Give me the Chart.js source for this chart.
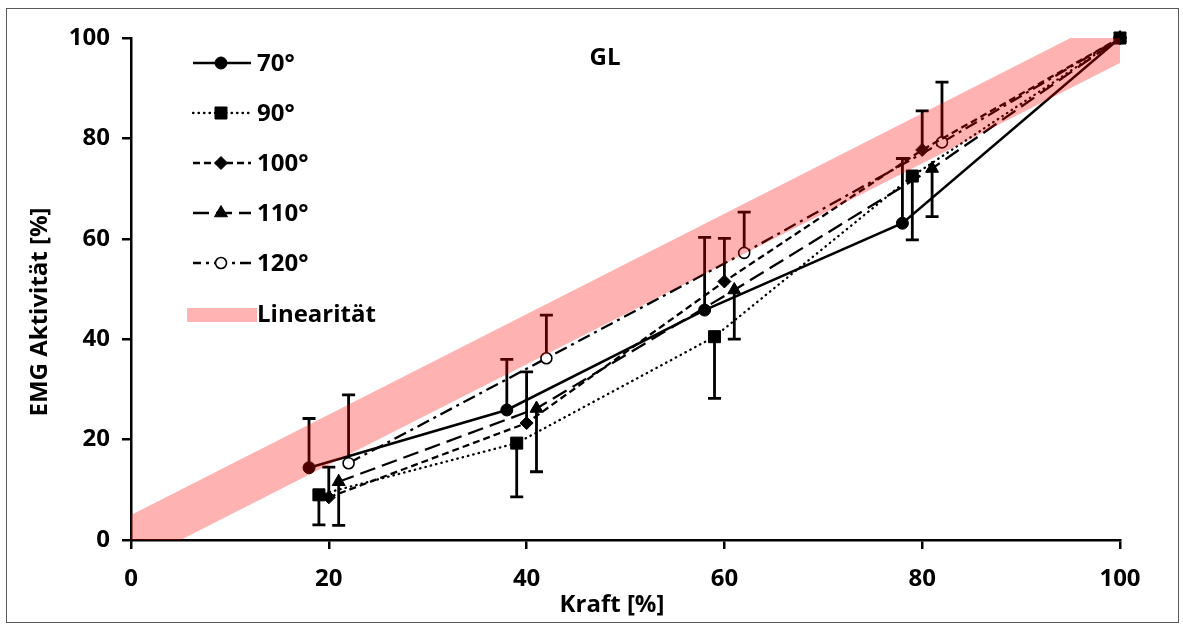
<!DOCTYPE html>
<html>
<head>
<meta charset="utf-8">
<script src="https://cdn.jsdelivr.net/npm/chart.js@4/dist/chart.umd.min.js"></script>
<style>
  html, body { margin: 0; padding: 0; background: #fff; }
  #wrap { width: 1183px; height: 630px; position: relative; }
</style>
</head>
<body>
<div id="wrap"><canvas id="grafico" width="1183" height="630"></canvas></div>
<script>
// Werte (Kraft [%] / EMG [%] / SD)
const etiquetas = ['70°', '90°', '100°', '110°', '120°'];

const x70 = [18, 38, 58, 78, 100];
const y70 = [14.4, 25.9, 45.8, 63.1, 100];
const sd70 = [9.8, 10.1, 14.5, 12.9, 0];

const x90 = [19, 39, 59, 79, 100];
const y90 = [9.0, 19.3, 40.5, 72.5, 100];
const sd90 = [6.0, 10.7, 12.3, 12.7, 0];

const x100 = [20, 40, 60, 80, 100];
const y100 = [8.5, 23.3, 51.5, 77.7, 100];
const sd100 = [6.0, 10.2, 8.6, 7.8, 0];

const x110 = [21, 41, 61, 81, 100];
const y110 = [11.6, 26.2, 49.8, 74.0, 100];
const sd110 = [8.7, 12.6, 9.8, 9.6, 0];

const x120 = [22, 42, 62, 82, 100];
const y120 = [15.3, 36.2, 57.2, 79.2, 100];
const sd120 = [13.6, 8.6, 8.1, 12.0, 0];

// Linearitätsband: y = x +/- 5
const bandX = [0, 100];
const bandOben = [5, 105];
const bandUnten = [-5, 95];

const ticksX = [0, 20, 40, 60, 80, 100];
const ticksY = [0, 20, 40, 60, 80, 100];

const tituloX = 'Kraft [%]';
const tituloY = 'EMG Aktivität [%]';

const FUENTE = '"Open Sans", "DejaVu Sans", sans-serif';

function puntos(xs, ys) { return xs.map((x, i) => ({ x: x, y: ys[i] })); }

// Serien: Stil + Richtung der Fehlerbalken (+1 nach oben, -1 nach unten)
const series = [
    { label: etiquetas[0], xs: x70, ys: y70, sd: sd70, dir: 1, dash: [], ancho: 2.5, punto: 'circle', radio: 6, relleno: '#000' },
    { label: etiquetas[1], xs: x90, ys: y90, sd: sd90, dir: -1, dash: [0.5, 5], ancho: 2.3, punto: 'rect', radio: 8.5, relleno: '#000', cap: 'round' },
    { label: etiquetas[2], xs: x100, ys: y100, sd: sd100, dir: 1, dash: [7, 4], ancho: 2.3, punto: 'rectRot', radio: 6.5, relleno: '#000' },
    { label: etiquetas[3], xs: x110, ys: y110, sd: sd110, dir: -1, dash: [16, 7], ancho: 2.3, punto: 'triangle', radio: 7.5, relleno: '#000' },
    { label: etiquetas[4], xs: x120, ys: y120, sd: sd120, dir: 1, dash: [13, 5, 3, 5], ancho: 2.3, punto: 'circle', radio: 5.5, relleno: '#fff', offsetLeyenda: 5 }
];

const ROSA = 'rgba(255, 0, 0, 0.3)';

const datasets = series.map(s => ({
    label: s.label,
    data: puntos(s.xs, s.ys),
    showLine: true,
    borderColor: '#000',
    borderWidth: s.ancho,
    borderDash: s.dash,
    borderCapStyle: s.cap || 'butt',
    pointStyle: s.punto,
    pointRadius: s.radio,
    pointHoverRadius: s.radio,
    pointBackgroundColor: s.relleno,
    pointBorderColor: '#000',
    pointBorderWidth: s.relleno === '#fff' ? 1.6 : 1,
    fill: false,
    clip: false
}));

datasets.push({
    label: 'Linearität',
    data: puntos(bandX, bandOben),
    showLine: true,
    borderWidth: 0,
    borderColor: 'rgba(0,0,0,0)',
    backgroundColor: ROSA,
    pointRadius: 0,
    fill: '+1',
    order: -2
});
datasets.push({
    label: 'Linearität_unten',
    data: puntos(bandX, bandUnten),
    showLine: true,
    borderWidth: 0,
    borderColor: 'rgba(0,0,0,0)',
    pointRadius: 0,
    fill: false,
    order: -1
});

// Fehlerbalken (unter allem, damit das Band darüber liegt)
const fehlerbalken = {
    id: 'fehlerbalken',
    beforeDatasetsDraw(chart) {
        const ctx = chart.ctx, sx = chart.scales.x, sy = chart.scales.y;
        ctx.save();
        ctx.strokeStyle = '#000';
        ctx.lineWidth = 2.8;
        series.forEach(s => {
            s.xs.forEach((xv, i) => {
                if (!s.sd[i]) return;
                const px = sx.getPixelForValue(xv);
                const p0 = sy.getPixelForValue(s.ys[i]);
                const p1 = sy.getPixelForValue(s.ys[i] + s.dir * s.sd[i]);
                ctx.beginPath();
                ctx.moveTo(px, p0); ctx.lineTo(px, p1);
                ctx.moveTo(px - 6.5, p1); ctx.lineTo(px + 6.5, p1);
                ctx.stroke();
            });
        });
        ctx.restore();
    }
};

function dibujarMarca(ctx, tipo, x, y, r, relleno) {
    ctx.save();
    ctx.fillStyle = relleno;
    ctx.strokeStyle = '#000';
    ctx.lineWidth = relleno === '#fff' ? 1.6 : 1;
    ctx.setLineDash([]);
    ctx.beginPath();
    if (tipo === 'circle') ctx.arc(x, y, r, 0, Math.PI * 2);
    else if (tipo === 'rect') { const h = r * Math.SQRT1_2; ctx.rect(x - h, y - h, 2 * h, 2 * h); }
    else if (tipo === 'rectRot') { ctx.moveTo(x, y - r); ctx.lineTo(x + r, y); ctx.lineTo(x, y + r); ctx.lineTo(x - r, y); ctx.closePath(); }
    else if (tipo === 'triangle') { ctx.moveTo(x, y - r); ctx.lineTo(x + r * 0.866, y + r * 0.5); ctx.lineTo(x - r * 0.866, y + r * 0.5); ctx.closePath(); }
    ctx.fill(); ctx.stroke();
    ctx.restore();
}

// Legende, Titel "GL", Achsentitel und Rahmen
const extras = {
    id: 'extras',
    afterDraw(chart) {
        const ctx = chart.ctx;
        ctx.save();
        ctx.font = 'bold 24px ' + FUENTE;
        ctx.fillStyle = '#000';
        ctx.textBaseline = 'middle';
        ctx.textAlign = 'left';
        series.forEach((s, i) => {
            const yy = 63 + i * 50;
            ctx.save();
            ctx.strokeStyle = '#000';
            ctx.lineWidth = s.ancho;
            ctx.setLineDash(s.dash);
            ctx.lineDashOffset = s.offsetLeyenda || 0;
            ctx.lineCap = s.cap || 'butt';
            ctx.beginPath(); ctx.moveTo(193, yy); ctx.lineTo(251, yy); ctx.stroke();
            ctx.restore();
            dibujarMarca(ctx, s.punto, 221, yy, s.radio, s.relleno);
            ctx.fillText(s.label, 257, yy + 1);
        });
        ctx.fillStyle = 'rgb(255,179,179)';
        ctx.fillRect(187, 308, 70, 14);
        ctx.fillStyle = '#000';
        ctx.fillText('Linearität', 257, 315);

        ctx.textAlign = 'center';
        ctx.fillText('GL', 605, 58);

        ctx.fillText(tituloX, 612, 605);
        ctx.save();
        ctx.translate(40, 312);
        ctx.rotate(-Math.PI / 2);
        ctx.fillText(tituloY, 0, 0);
        ctx.restore();

        ctx.strokeStyle = '#595959';
        ctx.lineWidth = 1;
        ctx.strokeRect(6.5, 8.5, 1172, 614);
        ctx.restore();
    }
};

const fuenteTicks = { family: FUENTE, size: 24, weight: 'bold' };

new Chart(document.getElementById('grafico'), {
    type: 'scatter',
    data: { datasets: datasets },
    options: {
        responsive: false,
        animation: false,
        events: [],
        layout: { padding: { top: 38, right: 63, left: 0, bottom: 0 } },
        plugins: { legend: { display: false }, tooltip: { enabled: false }, title: { display: false } },
        scales: {
            x: {
                type: 'linear', min: 0, max: 100,
                afterFit: s => { s.height = 90; },
                afterBuildTicks: s => { s.ticks = ticksX.map(v => ({ value: v })); },
                ticks: { font: fuenteTicks, color: '#000', padding: 16, maxRotation: 0 },
                grid: { drawOnChartArea: false, drawTicks: true, tickLength: 9, color: '#000', lineWidth: 2.5 },
                border: { display: true, color: '#000', width: 2.5 },
                title: { display: false }
            },
            y: {
                type: 'linear', min: 0, max: 100,
                afterFit: s => { s.width = 131; },
                afterBuildTicks: s => { s.ticks = ticksY.map(v => ({ value: v })); },
                ticks: { font: fuenteTicks, color: '#000', padding: 12 },
                grid: { drawOnChartArea: false, drawTicks: true, tickLength: 9, color: '#000', lineWidth: 2.5 },
                border: { display: true, color: '#000', width: 2.5 },
                title: { display: false }
            }
        }
    },
    plugins: [fehlerbalken, extras]
});
</script>
</body>
</html>
